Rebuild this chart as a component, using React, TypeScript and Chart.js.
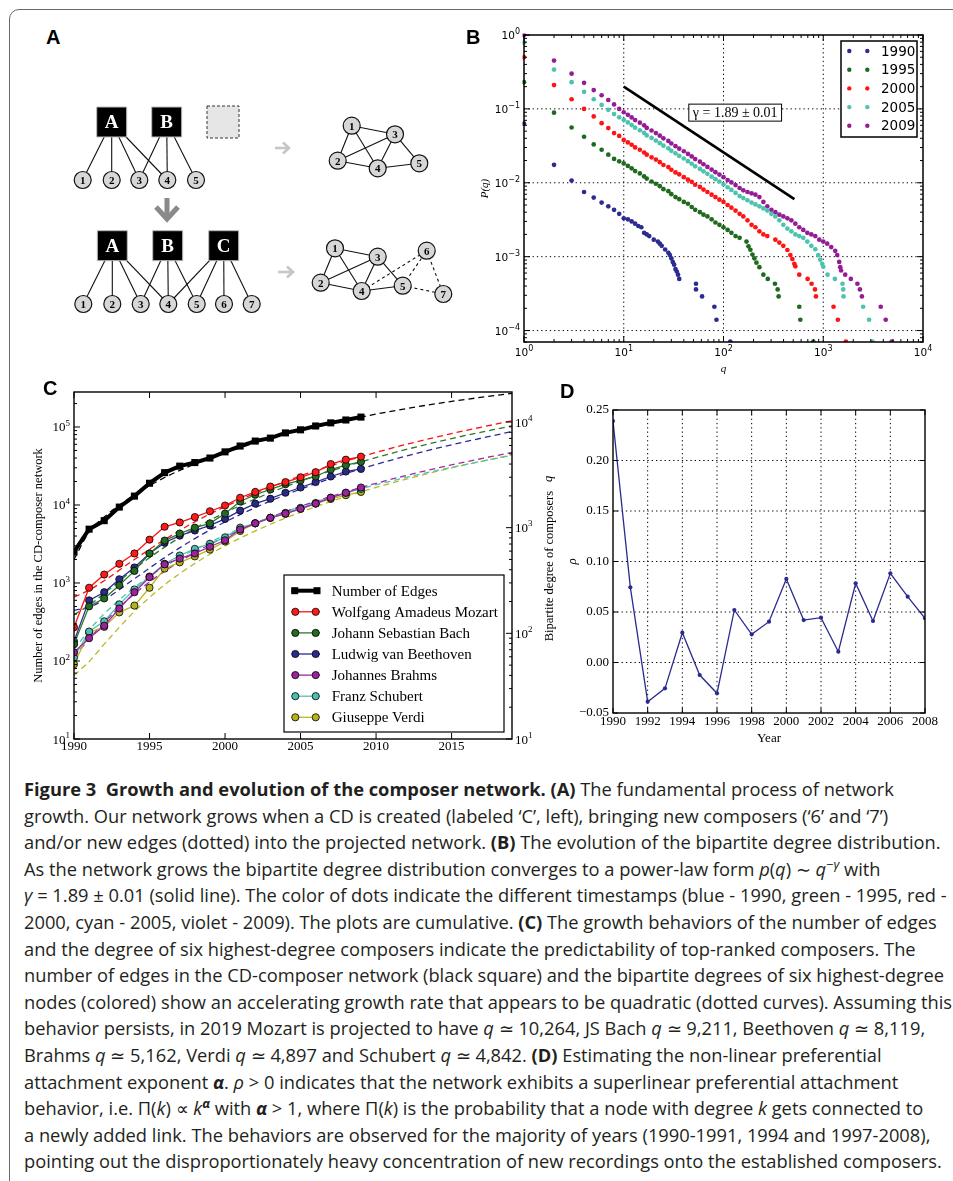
import React, { useEffect, useRef } from 'react';
import { Chart, registerables } from 'chart.js';

Chart.register(...registerables);

const SERIF = "'Liberation Serif', 'Times New Roman', serif";
const DSANS = "'DejaVu Sans', sans-serif";

// ---------------- Panel A : diagram layout (diagram units) ----------------
const cdTopNames = ['A', 'B'];
const cdTopX = [51.7, 106.7];
const cdTopY = 27;
const placeholderCd = [163, 27];
const compTopX = [22.7, 51.7, 79.3, 107.3, 136];
const compTopY = 85;
const bipTopEdges = [[0, 0], [0, 1], [0, 2], [0, 3], [1, 2], [1, 3], [1, 4]];
const cdBotNames = ['A', 'B', 'C'];
const cdBotX = [52.3, 107.7, 163.7];
const cdBotY = 150.7;
const compBotX = [23.3, 52.3, 80.7, 108.3, 136.7, 164, 191.7];
const compBotY = 209;
const bipBotEdges = [[0, 0], [0, 1], [0, 2], [0, 3], [1, 2], [1, 3], [1, 4], [2, 3], [2, 4], [2, 5], [2, 6]];
const projTopX = [291.7, 277.7, 335, 317.7, 359.3];
const projTopY = [30.7, 65.7, 39.3, 73.3, 68.3];
const projBotX = [275, 260.7, 317.7, 301.7, 342.7, 366.7, 383.3];
const projBotY = [153.3, 187.7, 161.7, 196, 190.7, 155.7, 199];
const projEdges = [[0, 2], [0, 1], [0, 3], [1, 2], [1, 3], [2, 3], [2, 4], [3, 4]];
const projNewEdges = [[3, 5], [4, 5], [5, 6], [4, 6]];
const downArrowShaft = [[107, 103], [107, 123]];
const downArrowHead = [[96, 112], [107, 124], [118, 112]];
const rightArrows = [
  { shaft: [[215, 53], [229, 53]], head: [[223, 47.5], [229, 53], [223, 58.5]] },
  { shaft: [[218, 177], [233, 177]], head: [[227, 171.5], [233, 177], [227, 182.5]] },
];

// ---------------- Panel B : cumulative bipartite degree distributions ----------------
const dist1990: [number, number][] = [
  [1, 0.063], [2, 0.0175], [3, 0.0107], [4, 0.0075], [5, 0.0063], [6, 0.0054], [7, 0.0048], [8, 0.0043], [9, 0.0038],
  [10, 0.0033], [11, 0.0032], [12, 0.003], [13, 0.0028], [14, 0.0026], [15, 0.0025], [16, 0.0021], [17, 0.002],
  [18, 0.0019], [20, 0.0017], [22, 0.0016], [23, 0.0015], [24, 0.0014], [26, 0.00125], [28, 0.00113], [29, 0.00105],
  [30, 0.00095], [31, 0.00085], [32, 0.00078], [33, 0.00068], [34, 0.00063], [35, 0.00057], [36, 0.0005],
  [53, 0.00043], [53, 0.00036], [61, 0.00029], [81, 0.00021], [85, 0.00014], [117, 0.000071],
];
const dist1995: [number, number][] = [
  [1, 0.23], [2, 0.089], [3, 0.056], [4, 0.042], [5, 0.033], [6, 0.028], [7, 0.024], [8, 0.021], [9, 0.0195],
  [10, 0.0183], [11, 0.0169], [12, 0.0157], [13, 0.0144], [14.5, 0.0134], [16, 0.0122], [17, 0.0114], [19, 0.0104],
  [21, 0.0097], [23, 0.009], [25, 0.0082], [28, 0.0077], [30, 0.007], [33, 0.0064], [36, 0.006], [40, 0.0055],
  [44, 0.0052], [48, 0.0047], [52, 0.0043], [58, 0.004], [63, 0.0037], [69, 0.0035], [76, 0.0032], [83, 0.0029],
  [91, 0.0027], [100, 0.0025], [110, 0.0023], [120, 0.0021], [132, 0.0019], [145, 0.0018], [170, 0.0016],
  [178, 0.00138], [186, 0.00124], [195, 0.00107], [204, 0.00095], [214, 0.00083], [229, 0.00072],
  [251, 0.00057], [278, 0.0005], [328, 0.00043], [349, 0.00036], [357, 0.00029], [575, 0.00021], [589, 0.00014], [794, 0.000071],
];
const dist2000: [number, number][] = [
  [1, 0.5], [2, 0.21], [3, 0.135], [4, 0.1], [5, 0.079], [6, 0.064], [7, 0.055], [8, 0.047], [9, 0.043],
  [10, 0.038], [11, 0.0352], [12, 0.0327], [13, 0.0301], [14.5, 0.028], [16, 0.0257], [17, 0.024], [19, 0.0221],
  [21, 0.0206], [23, 0.019], [25, 0.0174], [28, 0.0163], [30, 0.015], [33, 0.0138], [36, 0.013], [40, 0.0119],
  [44, 0.011], [48, 0.0103], [52, 0.0094], [58, 0.0088], [63, 0.0081], [69, 0.0075], [76, 0.0069], [83, 0.0064],
  [91, 0.0059], [100, 0.0055], [110, 0.005], [120, 0.0046], [132, 0.0042], [145, 0.0038], [158, 0.0035],
  [174, 0.0031], [191, 0.0027], [209, 0.0025], [229, 0.0022], [251, 0.002], [275, 0.0019], [331, 0.0017],
  [363, 0.00155], [398, 0.0014], [437, 0.00123], [468, 0.00105], [490, 0.00093], [513, 0.0008], [525, 0.00074],
  [575, 0.00057], [697, 0.0005], [764, 0.00043], [826, 0.00036], [845, 0.00029], [1268, 0.00021], [1402, 0.00014], [1686, 0.000071],
];
const dist2005: [number, number][] = [
  [1, 0.79], [2, 0.34], [3, 0.23], [4, 0.17], [5, 0.135], [6, 0.113], [7, 0.097], [8, 0.085], [9, 0.077],
  [10, 0.071], [11, 0.0655], [12, 0.0604], [13, 0.0557], [14.5, 0.0514], [16, 0.0474], [17, 0.0438], [19, 0.0404],
  [21, 0.0373], [23, 0.0344], [25, 0.0318], [28, 0.0293], [30, 0.0271], [33, 0.025], [36, 0.0231], [40, 0.0213],
  [44, 0.0196], [48, 0.0181], [52, 0.0167], [58, 0.0154], [63, 0.0143], [69, 0.0132], [76, 0.0121], [83, 0.0112],
  [91, 0.0104], [100, 0.0095], [110, 0.0087], [120, 0.008], [132, 0.0073], [145, 0.0066], [158, 0.0062],
  [174, 0.0058], [191, 0.0054], [209, 0.0051], [229, 0.0048], [251, 0.0045], [275, 0.0042], [302, 0.0038],
  [331, 0.0035], [363, 0.0031], [398, 0.0027], [437, 0.0024], [479, 0.0022], [525, 0.002], [575, 0.0019],
  [631, 0.0018], [692, 0.0016], [759, 0.0014], [832, 0.00126], [891, 0.00105], [933, 0.00091], [977, 0.0008], [1000, 0.00073],
  [1105, 0.00057], [1308, 0.0005], [1560, 0.00043], [1585, 0.00036], [1597, 0.00029], [2510, 0.00021], [2880, 0.00014], [3110, 0.000071],
];
const dist2009: [number, number][] = [
  [1, 1.0], [2, 0.45], [3, 0.3], [4, 0.225], [5, 0.18], [6, 0.153], [7, 0.132], [8, 0.115], [9, 0.1],
  [10, 0.09], [11, 0.083], [12, 0.0766], [13, 0.0705], [14.5, 0.065], [16, 0.06], [17, 0.0553], [19, 0.051],
  [21, 0.047], [23, 0.0434], [25, 0.04], [28, 0.0369], [30, 0.034], [33, 0.0313], [36, 0.0289], [40, 0.0267],
  [44, 0.0246], [48, 0.0227], [52, 0.0209], [58, 0.0193], [63, 0.0178], [69, 0.0164], [76, 0.0151], [83, 0.0139],
  [91, 0.0129], [100, 0.0119], [110, 0.0109], [120, 0.0101], [132, 0.0093], [145, 0.0085], [158, 0.0079],
  [174, 0.0075], [191, 0.0072], [209, 0.0069], [229, 0.0064], [251, 0.0055], [275, 0.0048], [302, 0.0043],
  [331, 0.004], [363, 0.0037], [398, 0.0035], [437, 0.0033], [479, 0.0031], [525, 0.0028], [575, 0.0025],
  [631, 0.0023], [692, 0.0021], [759, 0.002], [832, 0.0019], [912, 0.0017], [1000, 0.0016], [1096, 0.0015],
  [1202, 0.00135], [1318, 0.0012], [1380, 0.00105], [1445, 0.00085], [1480, 0.00072], [1510, 0.00065],
  [1660, 0.00057], [1890, 0.0005], [2200, 0.00043], [2330, 0.00036], [2440, 0.00029], [3770, 0.00021], [4230, 0.00014], [4860, 0.000071],
];
const distYears = ['1990', '1995', '2000', '2005', '2009'];
const distColors = ['#2b2b92', '#1f6a1f', '#ff1414', '#4cc3ae', '#961c96'];
const powerLawFit: [number, number][] = [[10, 0.2], [514, 0.006]];
const gammaLabel = 'γ = 1.89 ± 0.01';
const gammaLabelAt: [number, number] = [131, 0.089];
const bGridQ = [10, 100, 1000];
const bGridP = [0.1, 0.01, 0.001, 0.0001];
const bTickQExp = [0, 1, 2, 3, 4];
const bTickPExp = [0, -1, -2, -3, -4];

// ---------------- Panel C : growth ----------------
const years = [1990, 1991, 1992, 1993, 1994, 1995, 1996, 1997, 1998, 1999, 2000, 2001, 2002, 2003, 2004, 2005, 2006, 2007, 2008, 2009];
const edgesCount = [2500, 4900, 6300, 9400, 13000, 19000, 26000, 31500, 35000, 40000, 48000, 57000, 66000, 72000, 84000, 92000, 103000, 113000, 123000, 134000];
const mozartQ = [114, 270, 360, 455, 570, 770, 1020, 1120, 1260, 1430, 1620, 1920, 2180, 2450, 2700, 3000, 3350, 4000, 4400, 4700];
const bachQ = [79, 180, 214, 285, 390, 570, 755, 880, 1000, 1100, 1360, 1770, 2050, 2300, 2580, 2800, 3050, 3550, 3900, 4200];
const beethovenQ = [84, 205, 245, 325, 420, 570, 720, 840, 940, 1050, 1210, 1450, 1690, 1880, 2140, 2400, 2700, 3050, 3400, 3600];
const brahmsQ = [66, 90, 118, 172, 245, 340, 450, 510, 570, 660, 760, 960, 1100, 1240, 1360, 1510, 1690, 1920, 2140, 2400];
const schubertQ = [59, 104, 130, 188, 260, 345, 455, 545, 630, 705, 810, 1000, 1100, 1240, 1380, 1540, 1710, 1920, 2140, 2330];
const verdiQ = [51, 102, 115, 158, 183, 270, 410, 470, 535, 620, 740, 930, 1100, 1240, 1350, 1510, 1690, 1870, 2030, 2180];
const fitYears = [1990, 1991, 1992, 1994, 1996, 1998, 2000, 2003, 2006, 2009, 2012, 2015, 2019];
const fitEdges = [2000, 4500, 7000, 13500, 22500, 33500, 46500, 72000, 100000, 134000, 172000, 213000, 270000];
const fitMozart = [220, 257, 315, 500, 772, 1134, 1583, 2423, 3462, 4700, 6138, 7774, 10264];
const fitBach = [150, 184, 239, 407, 654, 982, 1388, 2147, 3084, 4200, 5495, 6969, 9211];
const fitBeethoven = [165, 177, 208, 328, 521, 788, 1132, 1786, 2610, 3600, 4760, 6088, 8119];
const fitBrahms = [60, 88, 127, 236, 387, 581, 817, 1250, 1778, 2400, 3119, 3929, 5162];
const fitSchubert = [70, 107, 153, 272, 428, 620, 849, 1261, 1754, 2330, 2988, 3727, 4842];
const fitVerdi = [40, 54, 79, 161, 288, 458, 673, 1077, 1579, 2180, 2881, 3680, 4897];
const composerNames = ['Wolfgang Amadeus Mozart', 'Johann Sebastian Bach', 'Ludwig van Beethoven', 'Johannes Brahms', 'Franz Schubert', 'Giuseppe Verdi'];
const composerColors = ['#ff1010', '#2a7a2a', '#2b2b96', '#a22aa2', '#4fc3b2', '#b9b922'];
const composerFills = ['#ff1a1a', '#236b23', '#2a2a8c', '#9a249a', '#4cbfae', '#b3b320'];
const edgesName = 'Number of Edges';
const cYearTicks = [1990, 1995, 2000, 2005, 2010, 2015];
const cLeftExp = [1, 2, 3, 4, 5];
const cRightExp = [1, 2, 3, 4];

// ---------------- Panel D : preferential attachment exponent ----------------
const rhoYears = [1990, 1991, 1992, 1993, 1994, 1995, 1996, 1997, 1998, 1999, 2000, 2001, 2002, 2003, 2004, 2005, 2006, 2007, 2008];
const rhoValues = [0.239, 0.0744, -0.0388, -0.0256, 0.0295, -0.0124, -0.0305, 0.052, 0.0279, 0.0404, 0.0827, 0.042, 0.0444, 0.0107, 0.0784, 0.0411, 0.0883, 0.0652, 0.0438];
const dYearTicks = [1990, 1992, 1994, 1996, 1998, 2000, 2002, 2004, 2006, 2008];
const dRhoTicks = [-0.05, 0, 0.05, 0.1, 0.15, 0.2, 0.25];

// ---------------- helpers ----------------
function seg(ctx: CanvasRenderingContext2D, x1: number, y1: number, x2: number, y2: number) {
  ctx.beginPath();
  ctx.moveTo(x1, y1);
  ctx.lineTo(x2, y2);
  ctx.stroke();
}

function drawPow(ctx: CanvasRenderingContext2D, x: number, y: number, exp: string, size: number, family: string, align: string) {
  const base = '10';
  ctx.font = `${size}px ${family}`;
  const wb = ctx.measureText(base).width;
  const ss = Math.round(size * 0.72);
  ctx.font = `${ss}px ${family}`;
  const we = ctx.measureText(exp).width;
  const tot = wb + we;
  const sx = align === 'right' ? x - tot : align === 'center' ? x - tot / 2 : x;
  ctx.textAlign = 'left';
  ctx.textBaseline = 'alphabetic';
  ctx.font = `${size}px ${family}`;
  ctx.fillText(base, sx, y);
  ctx.font = `${ss}px ${family}`;
  ctx.fillText(exp, sx + wb, y - size * 0.45);
}

function expText(e: number) {
  return e < 0 ? '−' + Math.abs(e) : String(e);
}

function logTicks(min: number, max: number) {
  const out: { v: number; major: boolean }[] = [];
  for (let e = Math.floor(Math.log10(min)); e <= Math.ceil(Math.log10(max)); e++) {
    for (let m = 1; m < 10; m++) {
      const v = m * Math.pow(10, e);
      if (v >= min * 0.999 && v <= max * 1.001) out.push({ v, major: m === 1 });
    }
  }
  return out;
}

function rotatedText(ctx: CanvasRenderingContext2D, text: string, x: number, y: number, font: string) {
  ctx.save();
  ctx.translate(x, y);
  ctx.rotate(-Math.PI / 2);
  ctx.font = font;
  ctx.textAlign = 'center';
  ctx.textBaseline = 'middle';
  ctx.fillText(text, 0, 0);
  ctx.restore();
}

const baseOptions = {
  animation: false as const,
  responsive: false,
  maintainAspectRatio: false,
  devicePixelRatio: 1,
  events: [] as any[],
};

function useChart(ref: React.RefObject<HTMLCanvasElement | null>, make: () => any) {
  useEffect(() => {
    if (!ref.current) return;
    const chart = new Chart(ref.current, make());
    return () => chart.destroy();
  }, []);
}

// ---------------- Panel A chart ----------------
function makeA() {
  const pt = (x: number, y: number) => ({ x, y });
  const datasets: any[] = [];
  const labelSets: { idx: number; labels: string[]; font: string; color: string }[] = [];
  const circle = (xs: number[], ys: number[]) => ({
    data: xs.map((x, i) => pt(x, ys[i])),
    showLine: false, pointRadius: 8.5, pointBackgroundColor: '#d7d7d7', pointBorderColor: '#111', pointBorderWidth: 1.2,
  });
  const square = (xs: number[], y: number) => ({
    data: xs.map((x) => pt(x, y)),
    showLine: false, pointStyle: 'rect', pointRadius: 21.2, pointBackgroundColor: '#000', pointBorderColor: '#bcbcbc', pointBorderWidth: 1,
  });
  const numFont = `bold 11px ${SERIF}`;
  const cdFont = `bold 19px ${SERIF}`;
  datasets.push(circle(compTopX, compTopX.map(() => compTopY)));
  labelSets.push({ idx: datasets.length - 1, labels: compTopX.map((_, i) => String(i + 1)), font: numFont, color: '#000' });
  datasets.push(circle(compBotX, compBotX.map(() => compBotY)));
  labelSets.push({ idx: datasets.length - 1, labels: compBotX.map((_, i) => String(i + 1)), font: numFont, color: '#000' });
  datasets.push(circle(projTopX, projTopY));
  labelSets.push({ idx: datasets.length - 1, labels: projTopX.map((_, i) => String(i + 1)), font: numFont, color: '#000' });
  datasets.push(circle(projBotX, projBotY));
  labelSets.push({ idx: datasets.length - 1, labels: projBotX.map((_, i) => String(i + 1)), font: numFont, color: '#000' });
  datasets.push(square(cdTopX, cdTopY));
  labelSets.push({ idx: datasets.length - 1, labels: cdTopNames, font: cdFont, color: '#fff' });
  datasets.push(square(cdBotX, cdBotY));
  labelSets.push({ idx: datasets.length - 1, labels: cdBotNames, font: cdFont, color: '#fff' });
  const [px, py] = placeholderCd;
  datasets.push({
    data: [pt(px - 16, py - 16), pt(px + 16, py - 16), pt(px + 16, py + 16), pt(px - 16, py + 16), pt(px - 16, py - 16)],
    showLine: true, borderColor: '#333', borderWidth: 1, borderDash: [3, 2], pointRadius: 0,
  });
  datasets.push({ data: [pt(px, py)], showLine: false, pointStyle: 'rect', pointRadius: 22.6, pointBackgroundColor: '#e6e6e6', pointBorderWidth: 0 });
  const edge = (a: { x: number; y: number }, b: { x: number; y: number }, dashed = false) => ({
    data: [a, b], showLine: true, borderColor: '#111', borderWidth: 1.1, pointRadius: 0, borderDash: dashed ? [3, 3] : [],
  });
  bipTopEdges.forEach(([c, n]) => datasets.push(edge(pt(cdTopX[c], cdTopY), pt(compTopX[n], compTopY))));
  bipBotEdges.forEach(([c, n]) => datasets.push(edge(pt(cdBotX[c], cdBotY), pt(compBotX[n], compBotY))));
  projEdges.forEach(([a, b]) => datasets.push(edge(pt(projTopX[a], projTopY[a]), pt(projTopX[b], projTopY[b]))));
  projEdges.forEach(([a, b]) => datasets.push(edge(pt(projBotX[a], projBotY[a]), pt(projBotX[b], projBotY[b]))));
  projNewEdges.forEach(([a, b]) => datasets.push(edge(pt(projBotX[a], projBotY[a]), pt(projBotX[b], projBotY[b]), true)));
  const arrow = (pts: number[][], color: string, w: number) => ({
    data: pts.map(([x, y]) => pt(x, y)), showLine: true, borderColor: color, borderWidth: w, pointRadius: 0,
    borderCapStyle: 'butt', borderJoinStyle: 'miter',
  });
  datasets.push(arrow(downArrowShaft, '#8a8a8a', 5));
  datasets.push(arrow(downArrowHead, '#8a8a8a', 5));
  rightArrows.forEach((ra) => {
    datasets.push(arrow(ra.shaft, '#c6c6c6', 2.6));
    datasets.push(arrow(ra.head, '#c6c6c6', 2.6));
  });

  const labelPlugin = {
    id: 'nodeLabels',
    afterDatasetsDraw(chart: any) {
      const ctx: CanvasRenderingContext2D = chart.ctx;
      ctx.save();
      ctx.textAlign = 'center';
      ctx.textBaseline = 'middle';
      labelSets.forEach((ls) => {
        const meta = chart.getDatasetMeta(ls.idx);
        ctx.font = ls.font;
        ctx.fillStyle = ls.color;
        meta.data.forEach((el: any, i: number) => ctx.fillText(ls.labels[i], el.x, el.y + 1));
      });
      ctx.restore();
    },
  };
  return {
    type: 'scatter',
    data: { datasets },
    options: {
      ...baseOptions,
      layout: { padding: 0, autoPadding: false },
      plugins: { legend: { display: false }, tooltip: { enabled: false } },
      scales: {
        x: { type: 'linear', display: false, min: 0, max: 400 },
        y: { type: 'linear', display: false, min: 0, max: 235, reverse: true },
      },
    },
    plugins: [labelPlugin],
  };
}

// ---------------- Panel B chart ----------------
function makeB() {
  const dists = [dist1990, dist1995, dist2000, dist2005, dist2009];
  const datasets: any[] = dists.map((d, i) => ({
    label: distYears[i],
    data: d.map(([q, p]) => ({ x: q, y: p })),
    showLine: false, pointRadius: 2.35, pointBackgroundColor: distColors[i], pointBorderWidth: 0,
    clip: { left: 1.5, top: 1.5, right: 0, bottom: 0 },
  }));
  datasets.unshift({
    data: powerLawFit.map(([q, p]) => ({ x: q, y: p })),
    showLine: true, borderColor: '#000', borderWidth: 2.6, pointRadius: 0,
  });
  const decor = {
    id: 'decorB',
    beforeDatasetsDraw(chart: any) {
      const ctx: CanvasRenderingContext2D = chart.ctx;
      const a = chart.chartArea;
      const { x, y } = chart.scales;
      ctx.save();
      ctx.strokeStyle = '#000';
      ctx.lineWidth = 1;
      ctx.setLineDash([1.3, 3]);
      bGridQ.forEach((v) => { const p = x.getPixelForValue(v); seg(ctx, p, a.top, p, a.bottom); });
      bGridP.forEach((v) => { const p = y.getPixelForValue(v); seg(ctx, a.left, p, a.right, p); });
      ctx.restore();
    },
    afterDatasetsDraw(chart: any) {
      const ctx: CanvasRenderingContext2D = chart.ctx;
      const a = chart.chartArea;
      const { x, y } = chart.scales;
      ctx.save();
      ctx.strokeStyle = '#000';
      ctx.fillStyle = '#000';
      ctx.lineWidth = 1;
      logTicks(x.min, x.max).forEach((t) => {
        const p = x.getPixelForValue(t.v);
        const L = t.major ? 6 : 3;
        seg(ctx, p, a.bottom, p, a.bottom - L);
        seg(ctx, p, a.top, p, a.top + L);
      });
      logTicks(y.min, y.max).forEach((t) => {
        const p = y.getPixelForValue(t.v);
        const L = t.major ? 6 : 3;
        seg(ctx, a.left, p, a.left + L, p);
        seg(ctx, a.right, p, a.right - L, p);
      });
      ctx.lineWidth = 1.5;
      ctx.strokeRect(a.left, a.top, a.right - a.left, a.bottom - a.top);
      bTickQExp.forEach((e) => drawPow(ctx, x.getPixelForValue(Math.pow(10, e)), a.bottom + 14, expText(e), 10.5, DSANS, 'center'));
      bTickPExp.forEach((e) => drawPow(ctx, a.left - 4, y.getPixelForValue(Math.pow(10, e)) + 4, expText(e), 10.5, DSANS, 'right'));
      ctx.font = `italic 11px ${SERIF}`;
      ctx.textAlign = 'center';
      ctx.textBaseline = 'middle';
      ctx.fillText('q', (a.left + a.right) / 2, a.bottom + 27);
      rotatedText(ctx, 'P(q)', a.left - 39, (a.top + a.bottom) / 2, `italic 11px ${SERIF}`);
      const gx = x.getPixelForValue(gammaLabelAt[0]);
      const gy = y.getPixelForValue(gammaLabelAt[1]);
      ctx.font = `14px ${SERIF}`;
      const tw = ctx.measureText(gammaLabel).width;
      ctx.fillStyle = '#fff';
      ctx.fillRect(gx - tw / 2 - 4, gy - 8.5, tw + 8, 17);
      ctx.lineWidth = 1;
      ctx.strokeRect(gx - tw / 2 - 4, gy - 8.5, tw + 8, 17);
      ctx.fillStyle = '#000';
      ctx.textAlign = 'center';
      ctx.fillText(gammaLabel, gx, gy + 1);
      const lw = 76, lh = 96;
      const lx = a.right - 6 - lw, ly = a.top + 6;
      ctx.fillStyle = '#fff';
      ctx.fillRect(lx, ly, lw, lh);
      ctx.lineWidth = 1.5;
      ctx.strokeRect(lx, ly, lw, lh);
      distYears.forEach((yr, i) => {
        const ry = ly + 10 + i * 18.7;
        ctx.fillStyle = distColors[i];
        [8.3, 26.3].forEach((dx) => { ctx.beginPath(); ctx.arc(lx + dx, ry, 2.2, 0, Math.PI * 2); ctx.fill(); });
        ctx.fillStyle = '#000';
        ctx.font = `13.5px ${DSANS}`;
        ctx.textAlign = 'left';
        ctx.textBaseline = 'middle';
        ctx.fillText(yr, lx + 40, ry + 1);
      });
      ctx.restore();
    },
  };
  return {
    type: 'scatter',
    data: { datasets },
    options: {
      ...baseOptions,
      layout: { padding: { top: 10, right: 17, left: 0, bottom: 0 }, autoPadding: false },
      plugins: { legend: { display: false }, tooltip: { enabled: false } },
      scales: {
        x: {
          type: 'logarithmic', min: 1, max: 10000,
          ticks: { display: false }, grid: { display: false }, border: { display: false },
          afterFit: (s: any) => { s.height = 38; },
        },
        y: {
          type: 'logarithmic', min: 0.000071, max: 1,
          ticks: { display: false }, grid: { display: false }, border: { display: false },
          afterFit: (s: any) => { s.width = 54; },
        },
      },
    },
    plugins: [decor],
  };
}

// ---------------- Panel C chart ----------------
function makeC() {
  const compSeries = [mozartQ, bachQ, beethovenQ, brahmsQ, schubertQ, verdiQ];
  const compFits = [fitMozart, fitBach, fitBeethoven, fitBrahms, fitSchubert, fitVerdi];
  const datasets: any[] = [];
  datasets.push({
    label: edgesName, yAxisID: 'y',
    data: years.map((yr, i) => ({ x: yr, y: edgesCount[i] })),
    borderColor: '#000', borderWidth: 4, pointStyle: 'rect', pointRadius: 5, pointBackgroundColor: '#000', pointBorderWidth: 0,
    borderJoinStyle: 'round',
  });
  compSeries.forEach((s, k) => datasets.push({
    label: composerNames[k], yAxisID: 'y1',
    data: years.map((yr, i) => ({ x: yr, y: s[i] })),
    borderColor: composerColors[k], borderWidth: 1.3, pointRadius: 3.6,
    pointBackgroundColor: composerFills[k], pointBorderColor: '#000', pointBorderWidth: 0.8,
  }));
  datasets.push({
    yAxisID: 'y', data: fitYears.map((yr, i) => ({ x: yr, y: fitEdges[i] })),
    borderColor: '#000', borderWidth: 1.3, borderDash: [6, 4], pointRadius: 0, cubicInterpolationMode: 'monotone',
  });
  compFits.forEach((f, k) => datasets.push({
    yAxisID: 'y1', data: fitYears.map((yr, i) => ({ x: yr, y: f[i] })),
    borderColor: composerColors[k], borderWidth: 1.3, borderDash: [6, 4], pointRadius: 0, cubicInterpolationMode: 'monotone',
  }));
  const decor = {
    id: 'decorC',
    afterDatasetsDraw(chart: any) {
      const ctx: CanvasRenderingContext2D = chart.ctx;
      const a = chart.chartArea;
      const { x, y, y1 } = chart.scales;
      ctx.save();
      ctx.strokeStyle = '#000';
      ctx.fillStyle = '#000';
      ctx.lineWidth = 1;
      logTicks(y.min, y.max).forEach((t) => {
        const p = y.getPixelForValue(t.v);
        seg(ctx, a.left, p, a.left + (t.major ? 6 : 3), p);
      });
      logTicks(y1.min, y1.max).forEach((t) => {
        const p = y1.getPixelForValue(t.v);
        seg(ctx, a.right, p, a.right - (t.major ? 6 : 3), p);
      });
      cYearTicks.forEach((v) => {
        const p = x.getPixelForValue(v);
        seg(ctx, p, a.bottom, p, a.bottom - 6);
        seg(ctx, p, a.top, p, a.top + 6);
      });
      ctx.lineWidth = 1.4;
      ctx.strokeRect(a.left, a.top, a.right - a.left, a.bottom - a.top);
      cLeftExp.forEach((e) => drawPow(ctx, a.left - 4, y.getPixelForValue(Math.pow(10, e)) + 4.5, String(e), 13, SERIF, 'right'));
      cRightExp.forEach((e) => drawPow(ctx, a.right + 3, y1.getPixelForValue(Math.pow(10, e)) + 4.5, String(e), 13, SERIF, 'left'));
      ctx.font = `13px ${SERIF}`;
      ctx.textAlign = 'center';
      ctx.textBaseline = 'middle';
      cYearTicks.forEach((v) => ctx.fillText(String(v), x.getPixelForValue(v), a.bottom + 8));
      rotatedText(ctx, 'Number of edges in the CD-composer network', a.left - 35, (a.top + a.bottom) / 2, `12.5px ${SERIF}`);
      ctx.save();
      ctx.translate(a.right + 38, (a.top + a.bottom) / 2 - 7);
      ctx.rotate(-Math.PI / 2);
      ctx.font = `12.5px ${SERIF}`;
      const t1 = 'Bipartite degree of composers';
      const w1 = ctx.measureText(t1).width;
      ctx.font = `italic 12.5px ${SERIF}`;
      const w2 = ctx.measureText('q').width;
      const tot = w1 + 9 + w2;
      ctx.textAlign = 'left';
      ctx.textBaseline = 'middle';
      ctx.font = `12.5px ${SERIF}`;
      ctx.fillText(t1, -tot / 2, 0);
      ctx.font = `italic 12.5px ${SERIF}`;
      ctx.fillText('q', -tot / 2 + w1 + 9, -1);
      ctx.restore();
      const lw = 220, lh = 157;
      const lx = a.right - 8 - lw, ly = a.bottom - 7 - lh;
      ctx.fillStyle = '#fff';
      ctx.fillRect(lx, ly, lw, lh);
      ctx.lineWidth = 1.2;
      ctx.strokeRect(lx, ly, lw, lh);
      const rows = [edgesName, ...composerNames];
      rows.forEach((name, i) => {
        const ry = ly + 15.7 + i * 21.1;
        const x1 = lx + 7.7, x2 = lx + 36;
        if (i === 0) {
          ctx.strokeStyle = '#000';
          ctx.lineWidth = 4;
          seg(ctx, x1, ry, x2, ry);
          ctx.fillStyle = '#000';
          ctx.fillRect(x1 - 0.5, ry - 3.5, 7, 7);
          ctx.fillRect(x2 - 6.5, ry - 3.5, 7, 7);
        } else {
          ctx.strokeStyle = composerColors[i - 1];
          ctx.lineWidth = 1.3;
          seg(ctx, x1, ry, x2, ry);
          [x1 + 3.6, x2 - 4.3].forEach((cx) => {
            ctx.beginPath();
            ctx.arc(cx, ry, 3.6, 0, Math.PI * 2);
            ctx.fillStyle = composerFills[i - 1];
            ctx.fill();
            ctx.lineWidth = 0.8;
            ctx.strokeStyle = '#000';
            ctx.stroke();
          });
        }
        ctx.fillStyle = '#000';
        ctx.font = `15px ${SERIF}`;
        ctx.textAlign = 'left';
        ctx.textBaseline = 'middle';
        ctx.fillText(name, lx + 47.7, ry + 1);
      });
      ctx.restore();
    },
  };
  const hidden = { ticks: { display: false }, grid: { display: false }, border: { display: false } };
  return {
    type: 'line',
    data: { datasets },
    options: {
      ...baseOptions,
      layout: { padding: { top: 7, right: 0, left: 0, bottom: 0 }, autoPadding: false },
      plugins: { legend: { display: false }, tooltip: { enabled: false } },
      scales: {
        x: { type: 'linear', min: 1990, max: 2019, ...hidden, afterFit: (s: any) => { s.height = 21; } },
        y: { type: 'logarithmic', position: 'left', min: 10, max: 281000, ...hidden, afterFit: (s: any) => { s.width = 49; } },
        y1: { type: 'logarithmic', position: 'right', min: 10, max: 19230, ...hidden, afterFit: (s: any) => { s.width = 53; } },
      },
    },
    plugins: [decor],
  };
}

// ---------------- Panel D chart ----------------
function makeD() {
  const decor = {
    id: 'decorD',
    beforeDatasetsDraw(chart: any) {
      const ctx: CanvasRenderingContext2D = chart.ctx;
      const a = chart.chartArea;
      const { x, y } = chart.scales;
      ctx.save();
      ctx.strokeStyle = '#000';
      ctx.lineWidth = 1;
      ctx.setLineDash([1.3, 3]);
      dYearTicks.slice(1, -1).forEach((v) => { const p = x.getPixelForValue(v); seg(ctx, p, a.top, p, a.bottom); });
      dRhoTicks.slice(1, -1).forEach((v) => { const p = y.getPixelForValue(v); seg(ctx, a.left, p, a.right, p); });
      ctx.restore();
    },
    afterDatasetsDraw(chart: any) {
      const ctx: CanvasRenderingContext2D = chart.ctx;
      const a = chart.chartArea;
      const { x, y } = chart.scales;
      ctx.save();
      ctx.strokeStyle = '#000';
      ctx.fillStyle = '#000';
      ctx.lineWidth = 1;
      dYearTicks.forEach((v) => {
        const p = x.getPixelForValue(v);
        seg(ctx, p, a.bottom, p, a.bottom - 5);
        seg(ctx, p, a.top, p, a.top + 5);
      });
      dRhoTicks.forEach((v) => {
        const p = y.getPixelForValue(v);
        seg(ctx, a.left, p, a.left + 5, p);
        seg(ctx, a.right, p, a.right - 5, p);
      });
      ctx.lineWidth = 1.4;
      ctx.strokeRect(a.left, a.top, a.right - a.left, a.bottom - a.top);
      ctx.font = `13px ${SERIF}`;
      ctx.textBaseline = 'middle';
      ctx.textAlign = 'right';
      dRhoTicks.forEach((v) => {
        const txt = (v < 0 ? '−' : '') + Math.abs(v).toFixed(2);
        ctx.fillText(txt, a.left - 4, y.getPixelForValue(v));
      });
      ctx.textAlign = 'center';
      dYearTicks.forEach((v) => ctx.fillText(String(v), x.getPixelForValue(v), a.bottom + 9));
      ctx.fillText('Year', (a.left + a.right) / 2, a.bottom + 26);
      rotatedText(ctx, 'ρ', a.left - 40, (a.top + a.bottom) / 2, `italic 13px ${SERIF}`);
      ctx.restore();
    },
  };
  const hidden = { ticks: { display: false }, grid: { display: false }, border: { display: false } };
  return {
    type: 'line',
    data: {
      datasets: [{
        data: rhoYears.map((yr, i) => ({ x: yr, y: rhoValues[i] })),
        borderColor: '#2b2b8f', borderWidth: 1.3, pointRadius: 2.1, pointBackgroundColor: '#2b2b8f', pointBorderWidth: 0,
      }],
    },
    options: {
      ...baseOptions,
      layout: { padding: { top: 15, right: 20, left: 0, bottom: 0 }, autoPadding: false },
      plugins: { legend: { display: false }, tooltip: { enabled: false } },
      scales: {
        x: { type: 'linear', min: 1990, max: 2008, ...hidden, afterFit: (s: any) => { s.height = 42; } },
        y: { type: 'linear', min: -0.05, max: 0.25, ...hidden, afterFit: (s: any) => { s.width = 63; } },
      },
    },
    plugins: [decor],
  };
}

// ---------------- caption ----------------
const supStyle: React.CSSProperties = { fontSize: '0.7em', verticalAlign: 'super', lineHeight: 0 };
const captionLines: React.ReactNode[] = [
  <><b>Figure 3&nbsp; Growth and evolution of the composer network. (A)</b> The fundamental process of network</>,
  <>growth. Our network grows when a CD is created (labeled ‘C’, left), bringing new composers (‘6’ and ‘7’)</>,
  <>and/or new edges (dotted) into the projected network. <b>(B)</b> The evolution of the bipartite degree distribution.</>,
  <>As the network grows the bipartite degree distribution converges to a power-law form <i>p</i>(<i>q</i>) ∼ <i>q</i><span style={supStyle}>−<i>γ</i></span> with</>,
  <><i>γ</i> = 1.89 ± 0.01 (solid line). The color of dots indicate the different timestamps (blue - 1990, green - 1995, red -</>,
  <>2000, cyan - 2005, violet - 2009). The plots are cumulative. <b>(C)</b> The growth behaviors of the number of edges</>,
  <>and the degree of six highest-degree composers indicate the predictability of top-ranked composers. The</>,
  <>number of edges in the CD-composer network (black square) and the bipartite degrees of six highest-degree</>,
  <>nodes (colored) show an accelerating growth rate that appears to be quadratic (dotted curves). Assuming this</>,
  <>behavior persists, in 2019 Mozart is projected to have <i>q</i> ≃ 10,264, JS Bach <i>q</i> ≃ 9,211, Beethoven <i>q</i> ≃ 8,119,</>,
  <>Brahms <i>q</i> ≃ 5,162, Verdi <i>q</i> ≃ 4,897 and Schubert <i>q</i> ≃ 4,842. <b>(D)</b> Estimating the non-linear preferential</>,
  <>attachment exponent <b><i>α</i></b>. <i>ρ</i> &gt; 0 indicates that the network exhibits a superlinear preferential attachment</>,
  <>behavior, i.e. Π(<i>k</i>) ∝ <i>k</i><span style={supStyle}><b><i>α</i></b></span> with <b><i>α</i></b> &gt; 1, where Π(<i>k</i>) is the probability that a node with degree <i>k</i> gets connected to</>,
  <>a newly added link. The behaviors are observed for the majority of years (1990-1991, 1994 and 1997-2008),</>,
  <>pointing out the disproportionately heavy concentration of new recordings onto the established composers.</>,
];

export default function App() {
  const refA = useRef<HTMLCanvasElement>(null);
  const refB = useRef<HTMLCanvasElement>(null);
  const refC = useRef<HTMLCanvasElement>(null);
  const refD = useRef<HTMLCanvasElement>(null);
  useChart(refA, makeA);
  useChart(refB, makeB);
  useChart(refC, makeC);
  useChart(refD, makeD);

  const canvasStyle = (l: number, t: number, w: number, h: number): React.CSSProperties => ({
    position: 'absolute', left: l, top: t, width: w, height: h,
  });
  const panelLetter = (txt: string, l: number, t: number) => (
    <div style={{ position: 'absolute', left: l, top: t, font: `bold 20px 'Liberation Sans', Arial, sans-serif`, lineHeight: '20px', color: '#000' }}>{txt}</div>
  );

  return (
    <div style={{ position: 'relative', width: 953, height: 1181, overflow: 'hidden', background: '#fff' }}>
      <style>{'body{margin:0;}'}</style>
      <div style={{ position: 'absolute', left: 9, top: 9, width: 1100, height: 1400, border: '1.5px solid #6a6a6a', borderRadius: 10, boxSizing: 'border-box' }} />
      <canvas ref={refA} width={400} height={235} style={canvasStyle(60, 95, 400, 235)} />
      <canvas ref={refB} width={470} height={355} style={canvasStyle(470, 25, 470, 355)} />
      <canvas ref={refC} width={540} height={375} style={canvasStyle(25, 385, 540, 375)} />
      <canvas ref={refD} width={395} height={360} style={canvasStyle(550, 395, 395, 360)} />
      {panelLetter('A', 46, 27)}
      {panelLetter('B', 466, 27)}
      {panelLetter('C', 43, 378)}
      {panelLetter('D', 560, 381)}
      {captionLines.map((ln, i) => (
        <div key={i} style={{
          position: 'absolute', left: 24, top: 789 + i * 26.6 - 12, whiteSpace: 'nowrap',
          font: `18.3px 'Open Sans', 'Noto Sans', sans-serif`, lineHeight: '24px', color: '#231f20',
        }}>{ln}</div>
      ))}
    </div>
  );
}
